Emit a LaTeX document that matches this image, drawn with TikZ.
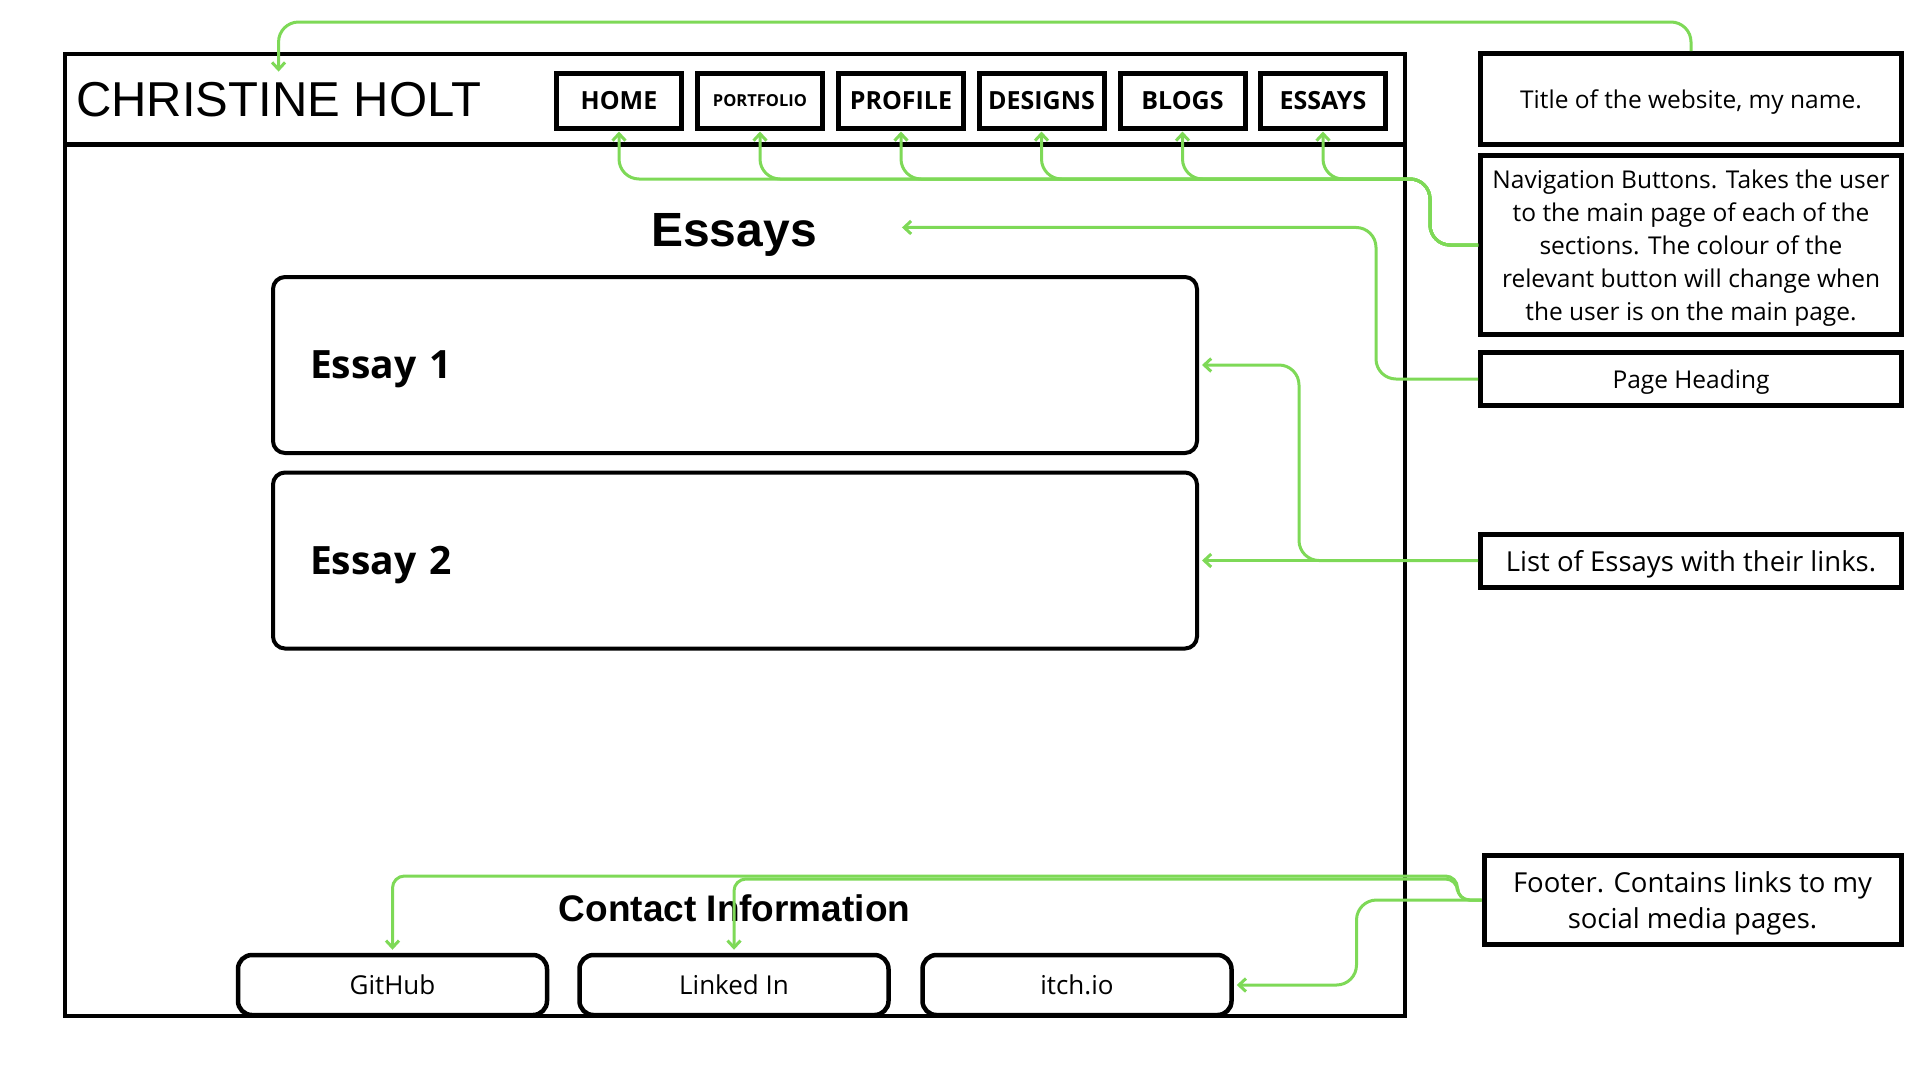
\documentclass[tikz,border=0pt]{standalone}
\usepackage{fontspec}
\setmainfont{Open Sans}
\newfontfamily\arialfont{Liberation Sans}
\usetikzlibrary{arrows.meta}
\definecolor{notegreen}{HTML}{7ED957}
\tikzset{
  navbtn/.style={draw, line width=5pt, minimum width=125pt, minimum height=55pt, inner sep=0pt,
    font=\bfseries\fontsize{25}{30}\selectfont},
  notebox/.style={draw, line width=5pt, minimum width=421pt, inner sep=0pt, align=center, text depth=0pt,
    font=\fontsize{24.5}{33}\selectfont},
  essaybox/.style={draw, line width=4pt, rounded corners=12pt, minimum width=924pt, minimum height=176pt,
    text width=850pt, inner xsep=0pt, text depth=0pt, align=left, font=\bfseries\fontsize{39}{46}\selectfont},
  linkbtn/.style={draw, line width=4.5pt, rounded corners=14pt, minimum width=309pt, minimum height=60pt,
    font=\fontsize{26}{30}\selectfont},
  notearrow/.style={draw=notegreen, line width=3pt, rounded corners=20pt,
    -{Straight Barb[length=7pt,width=13pt]}},
}
\begin{document}
\begin{tikzpicture}[x=1pt,y=-1pt]
      \useasboundingbox (0,0) rectangle (1920,1080);
      \draw[line width=4.5pt] (65,54) rectangle (1405,1016);
      \draw[line width=4.5pt] (65,144.5) -- (1405,144.5);
      \node[anchor=base west, inner sep=0pt, font=\arialfont\fontsize{49}{55}\selectfont] (name) at (76,116) {CHRISTINE HOLT};
      \node[navbtn] (home) at (619,100.5) {HOME};
      \node[navbtn, font=\bfseries\fontsize{16.5}{20}\selectfont] (portfolio) at (760,100.5) {PORTFOLIO};
      \node[navbtn] (profile) at (901,100.5) {PROFILE};
      \node[navbtn] (designs) at (1041.5,100.5) {DESIGNS};
      \node[navbtn] (blogs) at (1182.5,100.5) {BLOGS};
      \node[navbtn] (essays) at (1323,100.5) {ESSAYS};
      \node[anchor=base, inner sep=0pt, font=\arialfont\bfseries\fontsize{48}{55}\selectfont] (heading) at (734,246) {Essays};
      \node[essaybox] (essay1) at (735,365) {Essay 1};
      \node[essaybox] (essay2) at (735,560.5) {Essay 2};
      \node[anchor=base, inner sep=0pt, font=\arialfont\bfseries\fontsize{37}{44}\selectfont] (contact) at (734.5,921) {Contact Information};
      \node[linkbtn] (github) at (392.5,985) {GitHub};
      \node[linkbtn] (linkedin) at (734,985) {Linked In};
      \node[linkbtn] (itch) at (1077,985) {itch.io};
      \node[notebox, minimum height=91pt] (titlenote) at (1691,99) {Title of the website, my name.};
      \node[notebox, minimum height=179pt] (navnote) at (1691,245) {Navigation Buttons. Takes the user\\ to the main page of each of the\\ sections. The colour of the\\ relevant button will change when\\ the user is on the main page.};
      \node[notebox, minimum height=53pt] (pagenote) at (1691,379) {Page Heading};
      \node[notebox, minimum height=53pt, font=\fontsize{27.5}{36}\selectfont] (listnote) at (1691,560.5) {List of Essays with their links.};
      \node[notebox, minimum width=417pt, minimum height=89pt, font=\fontsize{27.5}{36}\selectfont] (footernote) at (1692.5,900) {Footer. Contains links to my\\ social media pages.};
      \coordinate (headtip) at ([xshift=85pt,yshift=7pt]heading.east);
      \begin{scope}[notearrow]
        \draw (titlenote.north) -- ++(0,-29) -| ([yshift=10pt]name.north);
        \draw (navnote.west) -| ++(-48,-66) -| ([yshift=-1pt]home.south);
        \draw (navnote.west) -| ++(-48,-66) -| ([yshift=-1pt]portfolio.south);
        \draw (navnote.west) -| ++(-48,-66) -| ([yshift=-1pt]profile.south);
        \draw (navnote.west) -| ++(-48,-66) -| ([yshift=-1pt]designs.south);
        \draw (navnote.west) -| ++(-48,-66) -| ([yshift=-1pt]blogs.south);
        \draw (navnote.west) -| ++(-48,-66) -| ([yshift=-1pt]essays.south);
        \draw (pagenote.west) -- ++(-102,0) |- (headtip);
        \draw (listnote.west) -- ([xshift=3pt]essay2.east);
        \draw (listnote.west) -| ([xshift=100pt]essay1.east) -- ([xshift=3pt]essay1.east);
        \draw[rounded corners=12pt] (footernote.west) -| ++(-24,-24) -| ([yshift=3pt]github.north);
        \draw[rounded corners=12pt] (footernote.west) -| ++(-24,-21) -| ([yshift=3pt]linkedin.north);
        \draw (footernote.west) -| ++(-125,85) -- ([xshift=3pt]itch.east);
      \end{scope}
    \end{tikzpicture}
\end{document}
